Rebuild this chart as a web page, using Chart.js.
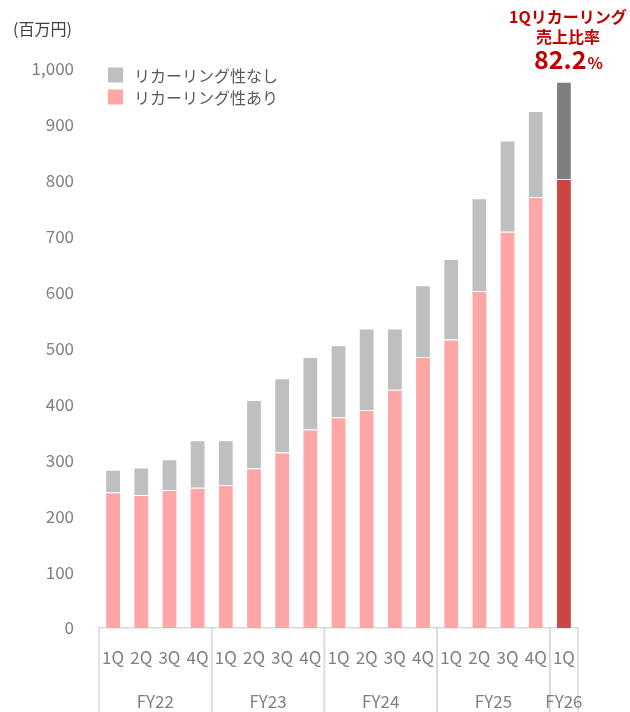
<!DOCTYPE html>
<html>
<head>
<meta charset="utf-8">
<script src="https://cdn.jsdelivr.net/npm/chart.js@4"></script>
<style>
  html, body { margin: 0; padding: 0; background: #fff; }
  #wrap { width: 630px; height: 712px; }
</style>
</head>
<body>
<div id="wrap"><canvas id="c" width="630" height="712"></canvas></div>
<script>
const quarters = ["1Q","2Q","3Q","4Q","1Q","2Q","3Q","4Q","1Q","2Q","3Q","4Q","1Q","2Q","3Q","4Q","1Q"];
const fiscalYears = ["FY22","FY22","FY22","FY22","FY23","FY23","FY23","FY23","FY24","FY24","FY24","FY24","FY25","FY25","FY25","FY25","FY26"];
// 百万円
const recurring = [243, 238, 247, 251, 256, 286, 314, 355, 377, 390, 426, 485, 516, 603, 709, 771, 803];
const nonRecurring = [40, 49, 55, 85, 80, 122, 133, 130, 129, 146, 110, 128, 144, 166, 163, 154, 174];
const yTicks = [0, 100, 200, 300, 400, 500, 600, 700, 800, 900, 1000];
const seriesNames = ["リカーリング性あり", "リカーリング性なし"];
const highlightText = ["1Qリカーリング", "売上比率", "82.2", "%"];

const JP = '"Noto Sans CJK JP", "Noto Sans", sans-serif';
const last = quarters.length - 1;

const pink = "#ffa6a6", red = "#cb4545", grey = "#bfbfbf", darkGrey = "#7f7f7f";

const extras = {
  id: "extras",
  afterDraw(chart) {
    const ctx = chart.ctx;
    const x = chart.scales.x;
    const area = chart.chartArea;
    ctx.save();

    // unit
    ctx.fillStyle = "#404040";
    ctx.font = "16px " + JP;
    ctx.textAlign = "left";
    ctx.textBaseline = "middle";
    ctx.fillText("(百万円)", 13, 29);

    // legend (grey first)
    const items = [[seriesNames[1], grey], [seriesNames[0], pink]];
    items.forEach((it, i) => {
      const y = 75 + i * 22;
      ctx.fillStyle = it[1];
      ctx.fillRect(108, y - 7.5, 15, 15);
      ctx.fillStyle = "#595959";
      ctx.font = "16px " + JP;
      ctx.fillText(it[0], 134, y + 1);
    });

    // fiscal year groups
    const half = (x.getPixelForValue(1) - x.getPixelForValue(0)) / 2;
    ctx.strokeStyle = "#d9d9d9";
    ctx.lineWidth = 1.5;
    let start = 0;
    for (let i = 1; i <= fiscalYears.length; i++) {
      if (i === fiscalYears.length || fiscalYears[i] !== fiscalYears[start]) {
        const left = x.getPixelForValue(start) - half;
        const right = x.getPixelForValue(i - 1) + half;
        [left, right].forEach(px => {
          ctx.beginPath();
          ctx.moveTo(px, area.bottom);
          ctx.lineTo(px, chart.height);
          ctx.stroke();
        });
        ctx.fillStyle = "#7f7f7f";
        ctx.font = "17px " + JP;
        ctx.textAlign = "center";
        ctx.fillText(fiscalYears[start], (left + right) / 2, 702);
        start = i;
      }
    }

    // highlight
    const cx = x.getPixelForValue(last) + 4;
    ctx.fillStyle = "#c00000";
    ctx.textAlign = "center";
    ctx.font = "bold 16px " + JP;
    ctx.fillText(highlightText[0], cx, 17);
    ctx.fillText(highlightText[1], cx, 37);
    ctx.font = "bold 25px " + JP;
    const w1 = ctx.measureText(highlightText[2]).width;
    ctx.font = "bold 16px " + JP;
    const w2 = ctx.measureText(highlightText[3]).width;
    const sx = cx - (w1 + w2) / 2;
    ctx.textAlign = "left";
    ctx.textBaseline = "alphabetic";
    ctx.font = "bold 25px " + JP;
    ctx.fillText(highlightText[2], sx, 69);
    ctx.font = "bold 16px " + JP;
    ctx.fillText(highlightText[3], sx + w1 + 1, 69);
    ctx.restore();
  }
};

new Chart(document.getElementById("c"), {
  type: "bar",
  data: {
    labels: quarters,
    datasets: [
      {
        label: seriesNames[0],
        data: recurring,
        backgroundColor: c => c.dataIndex === last ? red : pink,
        borderColor: "rgba(255,255,255,0.45)",
        borderWidth: 1,
        borderSkipped: "bottom"
      },
      {
        label: seriesNames[1],
        data: nonRecurring,
        backgroundColor: c => c.dataIndex === last ? darkGrey : grey,
        borderColor: "rgba(255,255,255,0.45)",
        borderWidth: 1,
        borderSkipped: "bottom"
      }
    ]
  },
  options: {
    responsive: false,
    animation: false,
    locale: "en-US",
    layout: { padding: { top: 69, right: 52, left: 10, bottom: 0 } },
    plugins: {
      legend: { display: false },
      tooltip: { enabled: false }
    },
    datasets: {
      bar: { barPercentage: 0.56, categoryPercentage: 1 }
    },
    scales: {
      x: {
        stacked: true,
        grid: { display: true, drawOnChartArea: false, drawTicks: false, color: "transparent" },
        border: { display: true, color: "#d9d9d9", width: 1.5 },
        ticks: {
          color: "#7f7f7f",
          font: { family: JP, size: 17 },
          padding: 19,
          maxRotation: 0,
          autoSkip: false
        },
        afterFit(s) { s.height = 84; }
      },
      y: {
        stacked: true,
        min: 0,
        max: 1000,
        afterBuildTicks(s) { s.ticks = yTicks.map(v => ({ value: v })); },
        grid: { display: false, drawTicks: false },
        border: { display: false },
        ticks: {
          color: "#7f7f7f",
          font: { family: JP, size: 17 },
          padding: 25
        },
        afterFit(s) { s.width = 89; }
      }
    }
  },
  plugins: [extras]
});
</script>
</body>
</html>
